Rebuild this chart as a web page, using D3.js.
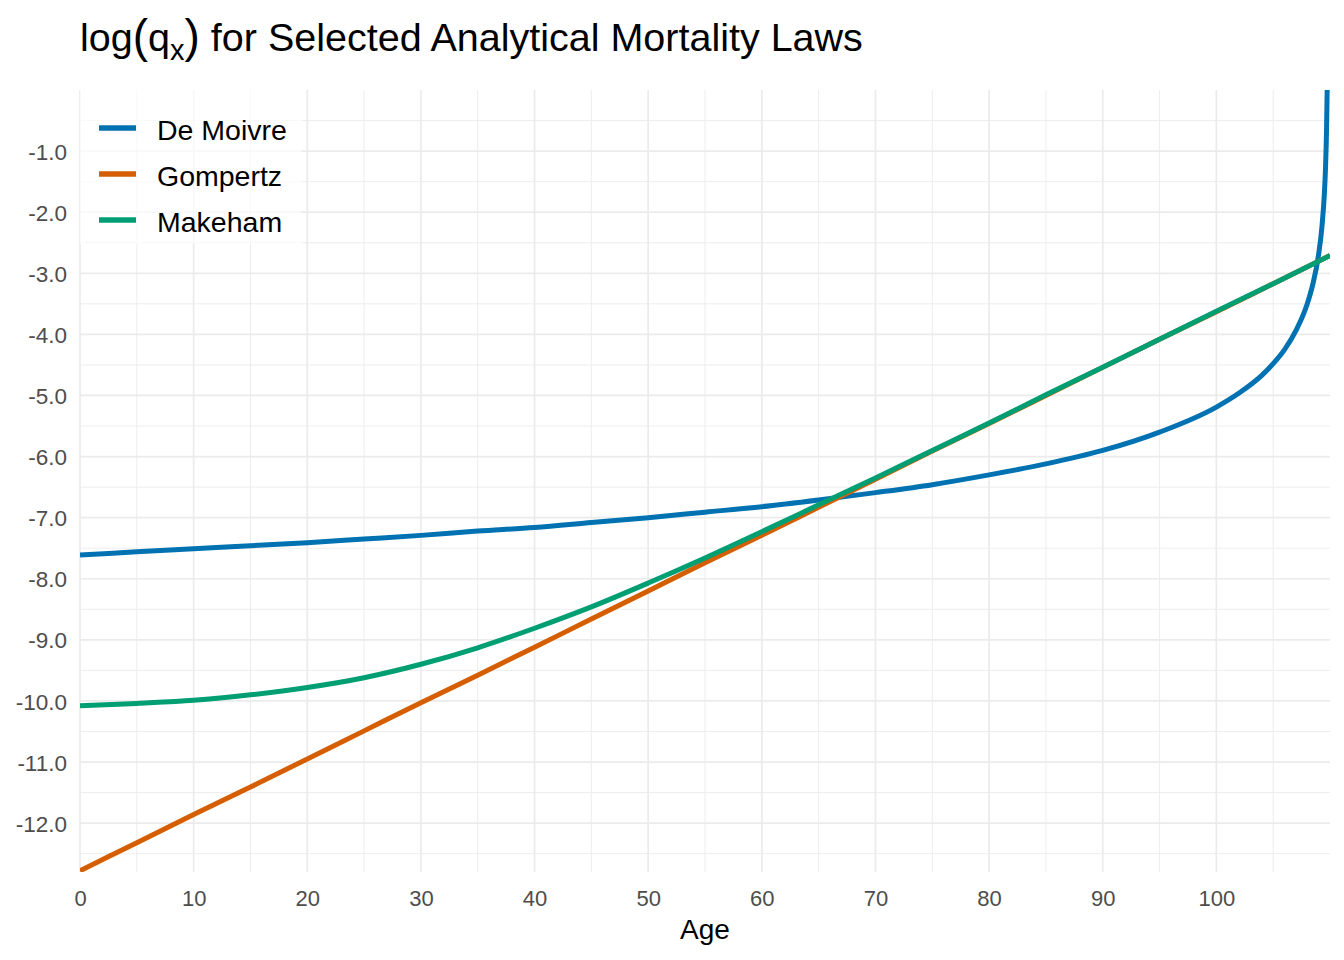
<!DOCTYPE html>
<html>
<head>
<meta charset="utf-8">
<script src="https://cdn.jsdelivr.net/npm/d3@7"></script>
<style>
  html, body { margin: 0; padding: 0; background: #ffffff; }
  svg { display: block; font-family: "Liberation Sans", Arial, sans-serif; }
</style>
</head>
<body>
<svg id="chart" width="1344" height="960"></svg>
<script>
// ---- data ----
const seriesNames = ["De Moivre", "Gompertz", "Makeham"];
const seriesColors = ["#0072B2", "#D55E00", "#009E73"];

const ageSteps = [0,5,10,15,20,25,30,35,40,45,50,55,60,65,70,75,80,85,90,95,100,105,110];
const gompertzValues = [-12.78,-12.32,-11.86,-11.41,-10.95,-10.49,-10.03,-9.58,-9.12,-8.66,-8.20,-7.74,-7.29,-6.83,-6.37,-5.91,-5.46,-5.00,-4.54,-4.08,-3.63,-3.17,-2.71];
const makehamValues = [-10.08,-10.04,-9.99,-9.90,-9.78,-9.62,-9.40,-9.13,-8.81,-8.46,-8.07,-7.66,-7.23,-6.79,-6.35,-5.90,-5.45,-4.99,-4.54,-4.08,-3.62,-3.17,-2.71];

const deMoivreAges = [0,5,10,15,20,25,30,35,40,45,50,55,60,65,70,75,80,85,90,95,100,102,104,105,106,107,108,108.5,109,109.3,109.5,109.6,109.7,109.75];
const deMoivreValues = [-7.61,-7.56,-7.51,-7.46,-7.41,-7.35,-7.29,-7.22,-7.16,-7.08,-7.00,-6.91,-6.82,-6.71,-6.59,-6.46,-6.30,-6.12,-5.90,-5.60,-5.19,-4.96,-4.67,-4.48,-4.25,-3.94,-3.50,-3.17,-2.69,-2.22,-1.71,-1.30,-0.61,0.00];

const xMajorTicks = [0,10,20,30,40,50,60,70,80,90,100];
const xMinorTicks = [5,15,25,35,45,55,65,75,85,95,105];
const yMajorTicks = [-1,-2,-3,-4,-5,-6,-7,-8,-9,-10,-11,-12];
const yMinorTicks = [-0.5,-1.5,-2.5,-3.5,-4.5,-5.5,-6.5,-7.5,-8.5,-9.5,-10.5,-11.5,-12.5];

const titleMain = "log";
const titleSub = "x";
const titleRest = " for Selected Analytical Mortality Laws";
const xTitle = "Age";

// ---- layout ----
const svg = d3.select("#chart");
const panel = { left: 80, right: 1330, top: 90, bottom: 872 };

const x = d3.scaleLinear().domain([0, 110]).range([panel.left, panel.right]);
const y = d3.scaleLinear().domain([-12.8, 0]).range([panel.bottom, panel.top]);

svg.append("defs").append("clipPath").attr("id", "clip")
  .append("rect")
  .attr("x", panel.left).attr("y", panel.top)
  .attr("width", panel.right - panel.left).attr("height", panel.bottom - panel.top);

const grid = svg.append("g");
// minor grid
grid.selectAll("line.xminor").data(xMinorTicks).join("line")
  .attr("x1", d => x(d)).attr("x2", d => x(d))
  .attr("y1", panel.top).attr("y2", panel.bottom)
  .attr("stroke", "#EBEBEB").attr("stroke-width", 0.9);
grid.selectAll("line.yminor").data(yMinorTicks).join("line")
  .attr("y1", d => y(d)).attr("y2", d => y(d))
  .attr("x1", panel.left).attr("x2", panel.right)
  .attr("stroke", "#EBEBEB").attr("stroke-width", 0.9);
// major grid
grid.selectAll("line.xmajor").data(xMajorTicks).join("line")
  .attr("x1", d => x(d)).attr("x2", d => x(d))
  .attr("y1", panel.top).attr("y2", panel.bottom)
  .attr("stroke", "#EBEBEB").attr("stroke-width", 1.7);
grid.selectAll("line.ymajor").data(yMajorTicks).join("line")
  .attr("y1", d => y(d)).attr("y2", d => y(d))
  .attr("x1", panel.left).attr("x2", panel.right)
  .attr("stroke", "#EBEBEB").attr("stroke-width", 1.7);

// axes (text only, via d3 axes)
const xAxis = d3.axisBottom(x).tickValues(xMajorTicks).tickFormat(d3.format("d")).tickSize(0).tickPadding(0);
const gx = svg.append("g").attr("transform", `translate(0,${panel.bottom})`).call(xAxis);
gx.select(".domain").remove();
gx.selectAll("text").attr("font-size", 22).attr("fill", "#4D4D4D")
  .attr("font-family", "Liberation Sans, Arial, sans-serif")
  .attr("dy", null).attr("y", 34);

const yAxis = d3.axisLeft(y).tickValues(yMajorTicks).tickFormat(d3.format(".1f")).tickSize(0).tickPadding(0);
const gy = svg.append("g").attr("transform", `translate(${panel.left},0)`).call(yAxis);
gy.select(".domain").remove();
gy.selectAll("text").attr("font-size", 22.5).attr("fill", "#4D4D4D")
  .attr("font-family", "Liberation Sans, Arial, sans-serif")
  .attr("x", -13).attr("dy", "0.36em")
  .text(d => d3.format(".1f")(d).replace("−", "-"));

// lines
const series = [
  { name: seriesNames[0], color: seriesColors[0], pts: deMoivreAges.map((a, i) => [a, deMoivreValues[i]]) },
  { name: seriesNames[1], color: seriesColors[1], pts: ageSteps.map((a, i) => [a, gompertzValues[i]]) },
  { name: seriesNames[2], color: seriesColors[2], pts: ageSteps.map((a, i) => [a, makehamValues[i]]) }
];
const line = d3.line().x(d => x(d[0])).y(d => y(d[1])).curve(d3.curveMonotoneX);
const lines = svg.append("g").attr("clip-path", "url(#clip)");
lines.selectAll("path").data(series).join("path")
  .attr("d", d => line(d.pts))
  .attr("fill", "none")
  .attr("stroke", d => d.color)
  .attr("stroke-width", 5)
  .attr("stroke-linejoin", "round");

// legend
const legend = svg.append("g");
legend.append("rect")
  .attr("x", 80).attr("y", 90).attr("width", 222).attr("height", 154)
  .attr("fill", "#ffffff").attr("fill-opacity", 0.65);
const legendItems = legend.selectAll("g.item").data(series).join("g")
  .attr("transform", (d, i) => `translate(0,${128 + i * 46})`);
legendItems.append("line")
  .attr("x1", 99).attr("x2", 136).attr("y1", 0).attr("y2", 0)
  .attr("stroke", d => d.color).attr("stroke-width", 5.5);
legendItems.append("text")
  .attr("x", 157).attr("y", 12)
  .attr("font-size", 28.5).attr("fill", "#000000")
  .text(d => d.name);

// title
const title = svg.append("text").attr("x", 80).attr("y", 51)
  .attr("font-size", 39.5).attr("fill", "#000000");
title.append("tspan").text(titleMain);
title.append("tspan").attr("font-size", 46).attr("dy", 1).text("(");
title.append("tspan").attr("dy", -1).text("q");
title.append("tspan").attr("font-size", 29).attr("dy", 9).text(titleSub);
title.append("tspan").attr("font-size", 46).attr("dy", -8).text(")");
title.append("tspan").attr("dy", -1).text(titleRest);

// x axis title
svg.append("text")
  .attr("x", (panel.left + panel.right) / 2).attr("y", 939)
  .attr("text-anchor", "middle").attr("font-size", 28).attr("fill", "#000000")
  .text(xTitle);
</script>
</body>
</html>
